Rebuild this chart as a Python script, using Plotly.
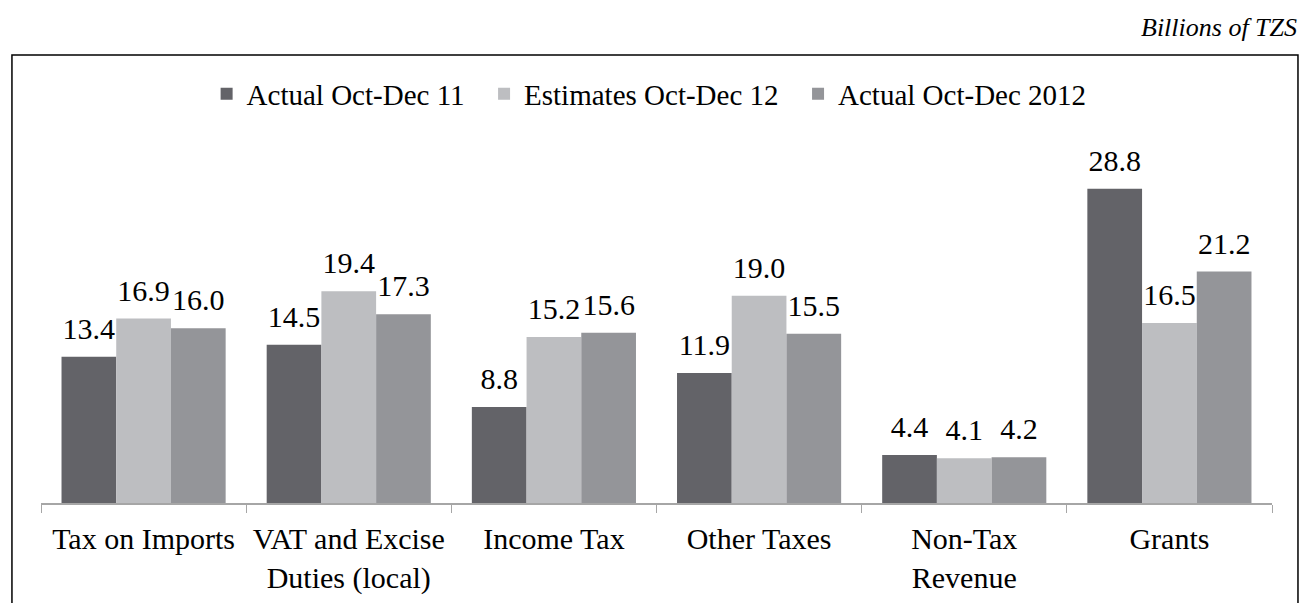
import plotly.graph_objects as go

categories = ["Tax on Imports", "VAT and Excise<br>Duties (local)", "Income Tax",
              "Other Taxes", "Non-Tax<br>Revenue", "Grants"]
series_names = ["Actual Oct-Dec 11", "Estimates Oct-Dec 12", "Actual Oct-Dec 2012"]
actual_11 = [13.4, 14.5, 8.8, 11.9, 4.4, 28.8]
estimates_12 = [16.9, 19.4, 15.2, 19.0, 4.1, 16.5]
actual_2012 = [16.0, 17.3, 15.6, 15.5, 4.2, 21.2]
colors = ["#636368", "#BDBEC1", "#949599"]

FONT = "Liberation Serif, Times New Roman, serif"
FS = 30
NB = "\u00a0" * 2

fig = go.Figure()
for i, (name, vals, col) in enumerate(zip(series_names, [actual_11, estimates_12, actual_2012], colors)):
    fig.add_trace(go.Bar(
        x=categories, y=vals, name=name + (NB if i < 2 else ""), offsetgroup=str(i),
        marker=dict(color=col, line=dict(width=0)),
    ))
    fig.add_trace(go.Scatter(
        x=categories, y=vals, mode="markers+text", offsetgroup=str(i), showlegend=False,
        text=[f"{v:.1f}" for v in vals], textposition="top center",
        marker=dict(size=15, color="rgba(0,0,0,0)"), hoverinfo="skip",
        textfont=dict(family=FONT, size=30, color="black"), cliponaxis=False,
    ))

fig.update_layout(
    width=1303, height=603,
    margin=dict(l=41, r=31, t=121, b=100),
    paper_bgcolor="white", plot_bgcolor="white",
    barmode="group", bargap=0.2, bargroupgap=0,
    scattermode="group", scattergap=0.2,
    font=dict(family=FONT, size=FS, color="black"),
    showlegend=True,
    legend=dict(orientation="h", x=0.494, xanchor="center", y=1.0707, yanchor="middle",
                font=dict(family=FONT, size=29, color="black"), itemwidth=30,
                traceorder="normal", bgcolor="rgba(0,0,0,0)"),
    xaxis=dict(showline=True, linecolor="#A6A6A6", linewidth=1.5, automargin=False,
               ticks="outside", tickson="boundaries", ticklen=8, tickcolor="#A6A6A6",
               ticklabelstandoff=8,
               tickfont=dict(family=FONT, size=FS, color="black"), showgrid=False),
    yaxis=dict(range=[0, 35], visible=False, showgrid=False, automargin=False),
    shapes=[dict(type="rect", xref="paper", yref="paper",
                 x0=-0.0236, x1=1.0211, y0=-0.3, y1=1.1728,
                 line=dict(color="black", width=1.5), fillcolor="rgba(0,0,0,0)")],
    annotations=[dict(text="<i>Billions of TZS</i>", xref="paper", yref="paper",
                      x=1.022, y=1.245, xanchor="right", yanchor="middle", showarrow=False,
                      font=dict(family=FONT, size=26, color="black"))],
)

fig.write_html("out.html", config={"displayModeBar": False},
               post_script="document.body.style.margin='0';")
